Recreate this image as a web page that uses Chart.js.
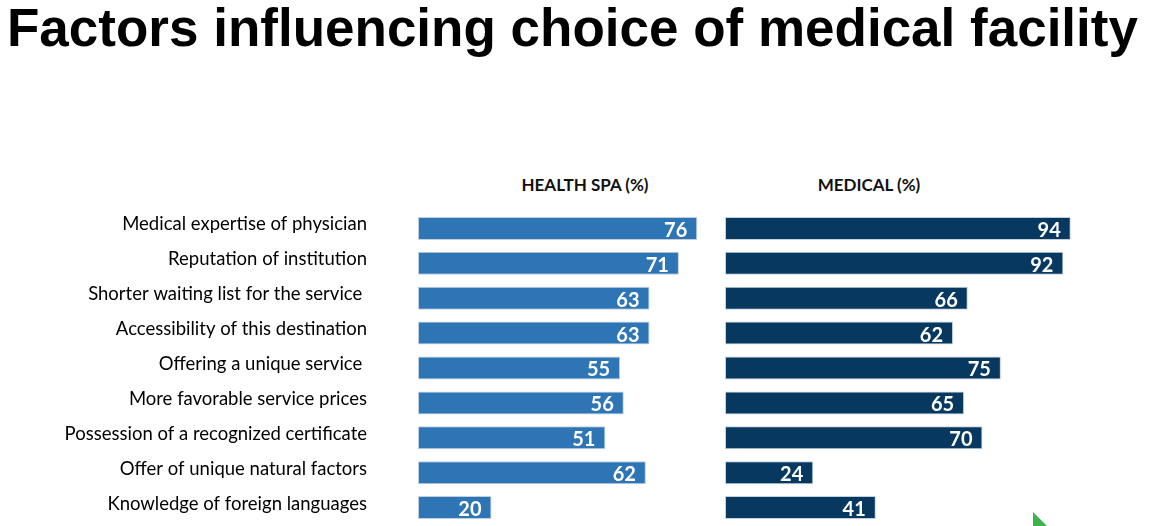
<!DOCTYPE html>
<html>
<head>
  <title>Factors influencing choice of medical facility</title>
  <script src="https://cdn.jsdelivr.net/npm/chart.js@4.4.0/dist/chart.umd.min.js"></script>
  <style>
    body { margin: 0; background: #fff; width: 1155px; height: 526px; overflow: hidden; position: relative; }
    h1 { position: absolute; left: 7px; top: -3px; margin: 0; font: bold 53px "Liberation Sans", Arial, sans-serif; color: #000; white-space: nowrap; }
    .head { position: absolute; top: 174px; width: 240px; text-align: center; font: bold 17px Lato, sans-serif; color: #111; }
    canvas { position: absolute; }
    .tri { position: absolute; left: 1033px; top: 512px; width: 0; height: 0; border-left: 14px solid #3cb44a; border-top: 14px solid transparent; }
  </style>
</head>
<body>
  <h1>Factors influencing choice of medical facility</h1>
  <div class="head" style="left:465px">HEALTH SPA (%)</div>
  <div class="head" style="left:749px">MEDICAL (%)</div>
  <canvas id="spaChart" width="712" height="314" style="left:0;top:211px"></canvas>
  <canvas id="medChart" width="423" height="314" style="left:725px;top:211px"></canvas>
  <div class="tri"></div>

  <script>
    const factors = [
      'Medical expertise of physician',
      'Reputation of institution',
      'Shorter waiting list for the service ',
      'Accessibility of this destination',
      'Offering a unique service ',
      'More favorable service prices',
      'Possession of a recognized certificate',
      'Offer of unique natural factors',
      'Knowledge of foreign languages'
    ];
    const healthSpa = [76, 71, 63, 63, 55, 56, 51, 62, 20];
    const medical = [94, 92, 66, 62, 75, 65, 70, 24, 41];

    // white value text at the end of each bar
    const barValues = {
      id: 'barValues',
      afterDatasetsDraw(chart) {
        const ctx = chart.ctx;
        const ds = chart.data.datasets[0];
        ctx.save();
        ctx.font = 'bold 20px Lato, sans-serif';
        ctx.fillStyle = '#fff';
        ctx.textAlign = 'right';
        ctx.textBaseline = 'middle';
        chart.getDatasetMeta(0).data.forEach((bar, i) => {
          ctx.fillText(ds.data[i], bar.x - 10, bar.y + 2);
        });
        ctx.restore();
      }
    };

    function makeChart(id, values, color, max, showLabels) {
      const yAxis = {
        display: showLabels,
        grid: { display: false, drawTicks: false },
        border: { display: false },
        ticks: { padding: 51, labelOffset: -4, color: '#000', font: { family: 'Lato', size: 18.5 } }
      };
      if (showLabels) {
        // fixed label column; drop the label padding so rows use the full height
        yAxis.afterFit = (scale) => {
          scale.width = 418;
          scale.paddingTop = 0;
          scale.paddingBottom = 0;
        };
      }

      return new Chart(document.getElementById(id), {
        type: 'bar',
        data: {
          labels: factors,
          datasets: [{
            data: values,
            backgroundColor: color,
            borderColor: '#c3d0dc',
            borderWidth: 1,
            borderSkipped: false,
            barPercentage: 0.66,
            categoryPercentage: 1
          }]
        },
        options: {
          indexAxis: 'y',
          responsive: false,
          animation: false,
          layout: { padding: 0 },
          plugins: { legend: { display: false }, tooltip: { enabled: false } },
          scales: {
            x: { display: false, min: 0, max: max },
            y: yAxis
          }
        },
        plugins: [barValues]
      });
    }

    makeChart('spaChart', healthSpa, '#2e75b6', 80, true);
    makeChart('medChart', medical, '#073860', 115, false);
  </script>
</body>
</html>
